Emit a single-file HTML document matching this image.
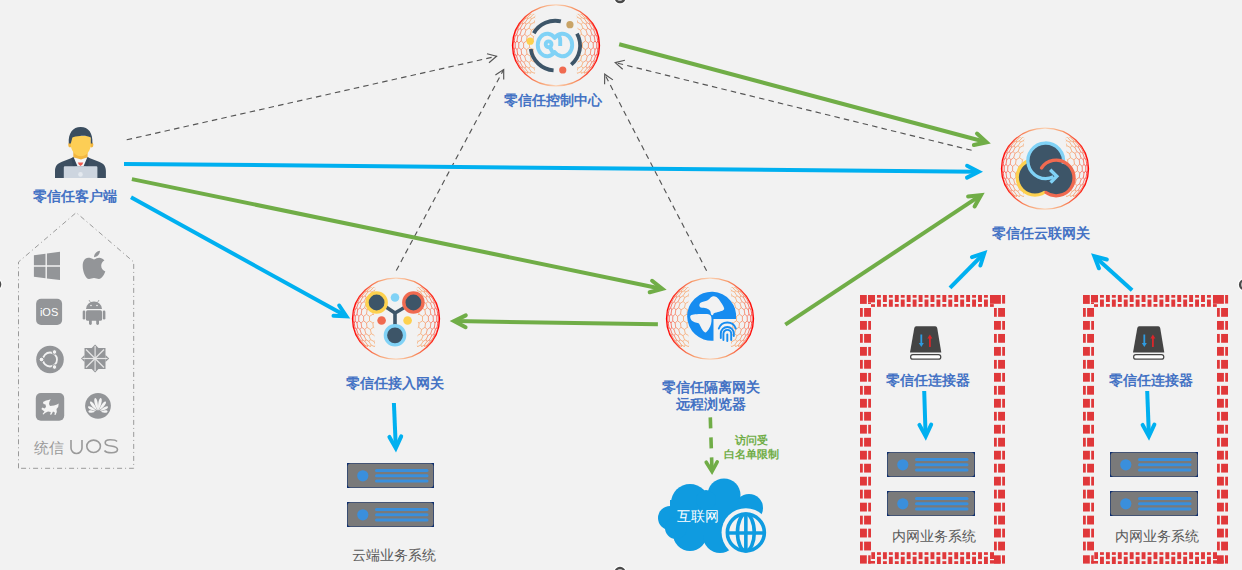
<!DOCTYPE html>
<html><head><meta charset="utf-8"><title>零信任架构</title>
<style>html,body{margin:0;padding:0;background:#f2f2f2;width:1242px;height:570px;overflow:hidden;font-family:"Liberation Sans",sans-serif}svg{display:block}</style>
</head><body>
<svg width="1242" height="570" viewBox="0 0 1242 570"><defs>
<linearGradient id="ringg" x1="0" y1="0" x2="1" y2="0">
 <stop offset="0" stop-color="#ff0000"/><stop offset="0.3" stop-color="#f79a6a"/>
 <stop offset="0.5" stop-color="#fbd3b5"/><stop offset="0.7" stop-color="#f79a6a"/><stop offset="1" stop-color="#ff0000"/>
</linearGradient>
<linearGradient id="meshg" x1="0" y1="0" x2="1" y2="0">
 <stop offset="0" stop-color="#ff1515"/><stop offset="0.08" stop-color="#f76a50"/><stop offset="0.2" stop-color="#f7a468"/>
 <stop offset="0.8" stop-color="#f7a468"/><stop offset="0.92" stop-color="#f76a50"/><stop offset="1" stop-color="#ff1515"/>
</linearGradient>
<pattern id="hex" width="5.2" height="9" patternUnits="userSpaceOnUse">
 <path d="M0,1.5 L1.3,0 L3.9,0 L5.2,1.5 M0,1.5 L0,3 M5.2,1.5 L5.2,3 M0,3 L1.3,4.5 L3.9,4.5 L5.2,3 M1.3,4.5 L1.3,6 M3.9,4.5 L3.9,6 M1.3,6 L0,7.5 M3.9,6 L5.2,7.5 M1.3,6 L3.9,6 M0,7.5 L0,9 M5.2,7.5 L5.2,9" fill="none" stroke="#000" stroke-width="0.6"/>
</pattern>
<mask id="cres" maskUnits="userSpaceOnUse" x="-50" y="-50" width="100" height="100">
 <ellipse cx="0" cy="0" rx="43" ry="40" fill="#fff"/>
 <ellipse cx="0" cy="0" rx="22" ry="90" fill="#000"/>
 <rect x="-50" y="-50" width="100" height="18.5" fill="#000"/>
 <rect x="-50" y="28.3" width="100" height="30" fill="#000"/>
</mask>
<g id="globe">
 <g mask="url(#cres)"><rect x="-44" y="-41" width="88" height="82" fill="url(#meshg)" mask="url(#hexm)"/></g>
 <ellipse cx="0" cy="0" rx="43.5" ry="40.5" fill="none" stroke="url(#ringg)" stroke-width="1.3"/>
</g>
<mask id="hexm" maskUnits="userSpaceOnUse" x="-50" y="-50" width="100" height="100">
 <path d="M-28.0,-31.2L-25.9,-32.5M-25.9,-32.5L-22.0,-35.0M-25.9,-32.5L-27.1,-31.2M-27.1,-31.2L-24.6,-32.5M-24.6,-32.5L-21.0,-35.0M-24.6,-32.5L-25.3,-31.2M-25.3,-31.2L-22.5,-32.5M-22.5,-32.5L-19.2,-35.0M-22.5,-32.5L-22.6,-31.2M-22.6,-31.2L-19.6,-32.5M-19.6,-32.5L-16.7,-35.0M-19.6,-32.5L-19.1,-31.2M-19.1,-31.2L-16.0,-32.5M16.0,-32.5L19.1,-31.2M19.1,-31.2L19.6,-32.5M19.6,-32.5L16.7,-35.0M19.6,-32.5L22.6,-31.2M22.6,-31.2L22.5,-32.5M22.5,-32.5L19.2,-35.0M22.5,-32.5L25.3,-31.2M25.3,-31.2L24.6,-32.5M24.6,-32.5L21.0,-35.0M24.6,-32.5L27.1,-31.2M27.1,-31.2L25.9,-32.5M25.9,-32.5L22.0,-35.0M25.9,-32.5L28.0,-31.2M-31.4,-28.1L-28.0,-31.2M-31.4,-28.1L-32.6,-26.5M-32.6,-26.5L-30.5,-28.1M-30.5,-28.1L-27.1,-31.2M-30.5,-28.1L-31.0,-26.5M-31.0,-26.5L-28.4,-28.1M-28.4,-28.1L-25.3,-31.2M-28.4,-28.1L-28.4,-26.5M-28.4,-26.5L-25.4,-28.1M-25.4,-28.1L-22.6,-31.2M-25.4,-28.1L-24.7,-26.5M-24.7,-26.5L-21.5,-28.1M-21.5,-28.1L-19.1,-31.2M-21.5,-28.1L-20.2,-26.5M-20.2,-26.5L-16.8,-28.1M16.8,-28.1L20.2,-26.5M20.2,-26.5L21.5,-28.1M21.5,-28.1L19.1,-31.2M21.5,-28.1L24.7,-26.5M24.7,-26.5L25.4,-28.1M25.4,-28.1L22.6,-31.2M25.4,-28.1L28.4,-26.5M28.4,-26.5L28.4,-28.1M28.4,-28.1L25.3,-31.2M28.4,-28.1L31.0,-26.5M31.0,-26.5L30.5,-28.1M30.5,-28.1L27.1,-31.2M30.5,-28.1L32.6,-26.5M32.6,-26.5L31.4,-28.1M31.4,-28.1L28.0,-31.2M-37.1,-21.1L-35.4,-23.0M-35.4,-23.0L-32.6,-26.5M-35.4,-23.0L-36.0,-21.1M-36.0,-21.1L-33.7,-23.0M-33.7,-23.0L-31.0,-26.5M-33.7,-23.0L-33.6,-21.1M-33.6,-21.1L-30.8,-23.0M-30.8,-23.0L-28.4,-26.5M-30.8,-23.0L-30.0,-21.1M-30.0,-21.1L-26.8,-23.0M-26.8,-23.0L-24.7,-26.5M-26.8,-23.0L-25.4,-21.1M-25.4,-21.1L-21.9,-23.0M-21.9,-23.0L-20.2,-26.5M-21.9,-23.0L-19.8,-21.1M-19.8,-21.1L-16.2,-23.0M16.2,-23.0L19.8,-21.1M19.8,-21.1L21.9,-23.0M21.9,-23.0L20.2,-26.5M21.9,-23.0L25.4,-21.1M25.4,-21.1L26.8,-23.0M26.8,-23.0L24.7,-26.5M26.8,-23.0L30.0,-21.1M30.0,-21.1L30.8,-23.0M30.8,-23.0L28.4,-26.5M30.8,-23.0L33.6,-21.1M33.6,-21.1L33.7,-23.0M33.7,-23.0L31.0,-26.5M33.7,-23.0L36.0,-21.1M36.0,-21.1L35.4,-23.0M35.4,-23.0L32.6,-26.5M35.4,-23.0L37.1,-21.1M-39.3,-17.2L-37.1,-21.1M-39.3,-17.2L-39.8,-15.2M-39.8,-15.2L-38.1,-17.2M-38.1,-17.2L-36.0,-21.1M-38.1,-17.2L-37.9,-15.2M-37.9,-15.2L-35.6,-17.2M-35.6,-17.2L-33.6,-21.1M-35.6,-17.2L-34.6,-15.2M-34.6,-15.2L-31.8,-17.2M-31.8,-17.2L-30.0,-21.1M-31.8,-17.2L-30.1,-15.2M-30.1,-15.2L-26.9,-17.2M-26.9,-17.2L-25.4,-21.1M-26.9,-17.2L-24.6,-15.2M-24.6,-15.2L-21.0,-17.2M-21.0,-17.2L-19.8,-21.1M-21.0,-17.2L-18.2,-15.2M18.2,-15.2L21.0,-17.2M21.0,-17.2L19.8,-21.1M21.0,-17.2L24.6,-15.2M24.6,-15.2L26.9,-17.2M26.9,-17.2L25.4,-21.1M26.9,-17.2L30.1,-15.2M30.1,-15.2L31.8,-17.2M31.8,-17.2L30.0,-21.1M31.8,-17.2L34.6,-15.2M34.6,-15.2L35.6,-17.2M35.6,-17.2L33.6,-21.1M35.6,-17.2L37.9,-15.2M37.9,-15.2L38.1,-17.2M38.1,-17.2L36.0,-21.1M38.1,-17.2L39.8,-15.2M39.8,-15.2L39.3,-17.2M39.3,-17.2L37.1,-21.1M-42.3,-8.9L-41.3,-11.0M-41.3,-11.0L-39.8,-15.2M-41.3,-11.0L-41.0,-8.9M-41.0,-8.9L-39.3,-11.0M-39.3,-11.0L-37.9,-15.2M-39.3,-11.0L-38.3,-8.9M-38.3,-8.9L-35.9,-11.0M-35.9,-11.0L-34.6,-15.2M-35.9,-11.0L-34.2,-8.9M-34.2,-8.9L-31.3,-11.0M-31.3,-11.0L-30.1,-15.2M-31.3,-11.0L-28.9,-8.9M-28.9,-8.9L-25.5,-11.0M-25.5,-11.0L-24.6,-15.2M-25.5,-11.0L-22.6,-8.9M-22.6,-8.9L-18.9,-11.0M18.9,-11.0L22.6,-8.9M22.6,-8.9L25.5,-11.0M25.5,-11.0L24.6,-15.2M25.5,-11.0L28.9,-8.9M28.9,-8.9L31.3,-11.0M31.3,-11.0L30.1,-15.2M31.3,-11.0L34.2,-8.9M34.2,-8.9L35.9,-11.0M35.9,-11.0L34.6,-15.2M35.9,-11.0L38.3,-8.9M38.3,-8.9L39.3,-11.0M39.3,-11.0L37.9,-15.2M39.3,-11.0L41.0,-8.9M41.0,-8.9L41.3,-11.0M41.3,-11.0L39.8,-15.2M41.3,-11.0L42.3,-8.9M-43.1,-4.5L-42.3,-8.9M-43.1,-4.5L-42.8,-2.3M-42.8,-2.3L-41.8,-4.5M-41.8,-4.5L-41.0,-8.9M-41.8,-4.5L-40.8,-2.3M-40.8,-2.3L-39.0,-4.5M-39.0,-4.5L-38.3,-8.9M-39.0,-4.5L-37.2,-2.3M-37.2,-2.3L-34.8,-4.5M-34.8,-4.5L-34.2,-8.9M-34.8,-4.5L-32.4,-2.3M-32.4,-2.3L-29.5,-4.5M-29.5,-4.5L-28.9,-8.9M-29.5,-4.5L-26.5,-2.3M-26.5,-2.3L-23.0,-4.5M-23.0,-4.5L-22.6,-8.9M-23.0,-4.5L-19.6,-2.3M-19.6,-2.3L-15.8,-4.5M15.8,-4.5L19.6,-2.3M19.6,-2.3L23.0,-4.5M23.0,-4.5L22.6,-8.9M23.0,-4.5L26.5,-2.3M26.5,-2.3L29.5,-4.5M29.5,-4.5L28.9,-8.9M29.5,-4.5L32.4,-2.3M32.4,-2.3L34.8,-4.5M34.8,-4.5L34.2,-8.9M34.8,-4.5L37.2,-2.3M37.2,-2.3L39.0,-4.5M39.0,-4.5L38.3,-8.9M39.0,-4.5L40.8,-2.3M40.8,-2.3L41.8,-4.5M41.8,-4.5L41.0,-8.9M41.8,-4.5L42.8,-2.3M42.8,-2.3L43.1,-4.5M43.1,-4.5L42.3,-8.9M-43.2,4.3L-42.9,2.1M-42.9,2.1L-42.8,-2.3M-42.9,2.1L-41.8,4.3M-41.8,4.3L-40.8,2.1M-40.8,2.1L-40.8,-2.3M-40.8,2.1L-39.0,4.3M-39.0,4.3L-37.3,2.1M-37.3,2.1L-37.2,-2.3M-37.3,2.1L-34.9,4.3M-34.9,4.3L-32.4,2.1M-32.4,2.1L-32.4,-2.3M-32.4,2.1L-29.5,4.3M-29.5,4.3L-26.5,2.1M-26.5,2.1L-26.5,-2.3M-26.5,2.1L-23.1,4.3M-23.1,4.3L-19.6,2.1M-19.6,2.1L-19.6,-2.3M-19.6,2.1L-15.8,4.3M15.8,4.3L19.6,2.1M19.6,2.1L19.6,-2.3M19.6,2.1L23.1,4.3M23.1,4.3L26.5,2.1M26.5,2.1L26.5,-2.3M26.5,2.1L29.5,4.3M29.5,4.3L32.4,2.1M32.4,2.1L32.4,-2.3M32.4,2.1L34.9,4.3M34.9,4.3L37.3,2.1M37.3,2.1L37.2,-2.3M37.3,2.1L39.0,4.3M39.0,4.3L40.8,2.1M40.8,2.1L40.8,-2.3M40.8,2.1L41.8,4.3M41.8,4.3L42.9,2.1M42.9,2.1L42.8,-2.3M42.9,2.1L43.2,4.3M-42.4,8.6L-43.2,4.3M-42.4,8.6L-41.4,10.8M-41.4,10.8L-41.1,8.6M-41.1,8.6L-41.8,4.3M-41.1,8.6L-39.4,10.8M-39.4,10.8L-38.4,8.6M-38.4,8.6L-39.0,4.3M-38.4,8.6L-36.0,10.8M-36.0,10.8L-34.3,8.6M-34.3,8.6L-34.9,4.3M-34.3,8.6L-31.3,10.8M-31.3,10.8L-29.0,8.6M-29.0,8.6L-29.5,4.3M-29.0,8.6L-25.6,10.8M-25.6,10.8L-22.7,8.6M-22.7,8.6L-23.1,4.3M-22.7,8.6L-18.9,10.8M18.9,10.8L22.7,8.6M22.7,8.6L23.1,4.3M22.7,8.6L25.6,10.8M25.6,10.8L29.0,8.6M29.0,8.6L29.5,4.3M29.0,8.6L31.3,10.8M31.3,10.8L34.3,8.6M34.3,8.6L34.9,4.3M34.3,8.6L36.0,10.8M36.0,10.8L38.4,8.6M38.4,8.6L39.0,4.3M38.4,8.6L39.4,10.8M39.4,10.8L41.1,8.6M41.1,8.6L41.8,4.3M41.1,8.6L41.4,10.8M41.4,10.8L42.4,8.6M42.4,8.6L43.2,4.3M-39.5,17.0L-39.9,15.0M-39.9,15.0L-41.4,10.8M-39.9,15.0L-38.2,17.0M-38.2,17.0L-38.0,15.0M-38.0,15.0L-39.4,10.8M-38.0,15.0L-35.7,17.0M-35.7,17.0L-34.7,15.0M-34.7,15.0L-36.0,10.8M-34.7,15.0L-31.9,17.0M-31.9,17.0L-30.2,15.0M-30.2,15.0L-31.3,10.8M-30.2,15.0L-27.0,17.0M-27.0,17.0L-24.7,15.0M-24.7,15.0L-25.6,10.8M-24.7,15.0L-21.1,17.0M-21.1,17.0L-18.3,15.0M18.3,15.0L21.1,17.0M21.1,17.0L24.7,15.0M24.7,15.0L25.6,10.8M24.7,15.0L27.0,17.0M27.0,17.0L30.2,15.0M30.2,15.0L31.3,10.8M30.2,15.0L31.9,17.0M31.9,17.0L34.7,15.0M34.7,15.0L36.0,10.8M34.7,15.0L35.7,17.0M35.7,17.0L38.0,15.0M38.0,15.0L39.4,10.8M38.0,15.0L38.2,17.0M38.2,17.0L39.9,15.0M39.9,15.0L41.4,10.8M39.9,15.0L39.5,17.0M-37.3,20.9L-39.5,17.0M-37.3,20.9L-35.6,22.8M-35.6,22.8L-36.1,20.9M-36.1,20.9L-38.2,17.0M-36.1,20.9L-33.9,22.8M-33.9,22.8L-33.7,20.9M-33.7,20.9L-35.7,17.0M-33.7,20.9L-31.0,22.8M-31.0,22.8L-30.1,20.9M-30.1,20.9L-31.9,17.0M-30.1,20.9L-27.0,22.8M-27.0,22.8L-25.5,20.9M-25.5,20.9L-27.0,17.0M-25.5,20.9L-22.0,22.8M-22.0,22.8L-19.9,20.9M-19.9,20.9L-21.1,17.0M-19.9,20.9L-16.3,22.8M16.3,22.8L19.9,20.9M19.9,20.9L21.1,17.0M19.9,20.9L22.0,22.8M22.0,22.8L25.5,20.9M25.5,20.9L27.0,17.0M25.5,20.9L27.0,22.8M27.0,22.8L30.1,20.9M30.1,20.9L31.9,17.0M30.1,20.9L31.0,22.8M31.0,22.8L33.7,20.9M33.7,20.9L35.7,17.0M33.7,20.9L33.9,22.8M33.9,22.8L36.1,20.9M36.1,20.9L38.2,17.0M36.1,20.9L35.6,22.8M35.6,22.8L37.3,20.9M37.3,20.9L39.5,17.0M-31.6,27.9L-32.8,26.3M-32.8,26.3L-35.6,22.8M-32.8,26.3L-30.7,27.9M-30.7,27.9L-31.2,26.3M-31.2,26.3L-33.9,22.8M-31.2,26.3L-28.6,27.9M-28.6,27.9L-28.5,26.3M-28.5,26.3L-31.0,22.8M-28.5,26.3L-25.6,27.9M-25.6,27.9L-24.9,26.3M-24.9,26.3L-27.0,22.8M-24.9,26.3L-21.6,27.9M-21.6,27.9L-20.3,26.3M-20.3,26.3L-22.0,22.8M-20.3,26.3L-16.9,27.9M16.9,27.9L20.3,26.3M20.3,26.3L22.0,22.8M20.3,26.3L21.6,27.9M21.6,27.9L24.9,26.3M24.9,26.3L27.0,22.8M24.9,26.3L25.6,27.9M25.6,27.9L28.5,26.3M28.5,26.3L31.0,22.8M28.5,26.3L28.6,27.9M28.6,27.9L31.2,26.3M31.2,26.3L33.9,22.8M31.2,26.3L30.7,27.9M30.7,27.9L32.8,26.3M32.8,26.3L35.6,22.8M32.8,26.3L31.6,27.9M-28.2,31.0L-31.6,27.9M-28.2,31.0L-26.1,32.4M-26.1,32.4L-27.4,31.0M-27.4,31.0L-30.7,27.9M-27.4,31.0L-24.9,32.4M-24.9,32.4L-25.5,31.0M-25.5,31.0L-28.6,27.9M-25.5,31.0L-22.7,32.4M-22.7,32.4L-22.8,31.0M-22.8,31.0L-25.6,27.9M-22.8,31.0L-19.8,32.4M-19.8,32.4L-19.3,31.0M-19.3,31.0L-21.6,27.9M-19.3,31.0L-16.2,32.4M16.2,32.4L19.3,31.0M19.3,31.0L21.6,27.9M19.3,31.0L19.8,32.4M19.8,32.4L22.8,31.0M22.8,31.0L25.6,27.9M22.8,31.0L22.7,32.4M22.7,32.4L25.5,31.0M25.5,31.0L28.6,27.9M25.5,31.0L24.9,32.4M24.9,32.4L27.4,31.0M27.4,31.0L30.7,27.9M27.4,31.0L26.1,32.4M26.1,32.4L28.2,31.0M28.2,31.0L31.6,27.9" fill="none" stroke="#fff" stroke-width="0.75"/>
</mask>
<pattern id="hexw" width="5.889" height="10.200" patternUnits="userSpaceOnUse">
 <path d="M2.944,0 L5.889,1.700 L5.889,5.100 L2.944,6.800 L0,5.100 L0,1.700 Z M2.944,6.800 L2.944,10.200" fill="none" stroke="#fff" stroke-width="0.5"/>
</pattern>
</defs>
<line x1="126.7" y1="139.8" x2="496.6" y2="56.3" stroke="#555555" stroke-width="1.15" stroke-dasharray="5.5 4.2"/><polyline points="487.0,53.7 496.6,56.3 489.0,62.8" fill="none" stroke="#555555" stroke-width="1.15"/>
<line x1="396.3" y1="270.5" x2="503.7" y2="69.5" stroke="#555555" stroke-width="1.15" stroke-dasharray="5.5 4.2"/><polyline points="495.4,75.1 503.7,69.5 503.7,79.5" fill="none" stroke="#555555" stroke-width="1.15"/>
<line x1="706.6" y1="270.8" x2="604.7" y2="74.2" stroke="#555555" stroke-width="1.15" stroke-dasharray="5.5 4.2"/><polyline points="604.6,84.2 604.7,74.2 612.9,79.9" fill="none" stroke="#555555" stroke-width="1.15"/>
<line x1="971.6" y1="150.3" x2="615.2" y2="62.6" stroke="#555555" stroke-width="1.15" stroke-dasharray="5.5 4.2"/><polyline points="622.7,69.3 615.2,62.6 624.9,60.2" fill="none" stroke="#555555" stroke-width="1.15"/>
<line x1="124.0" y1="163.9" x2="977.6" y2="171.8" stroke="#00b0f0" stroke-width="4"/><polyline points="967.1,165.8 978.6,171.8 967.0,177.6" fill="none" stroke="#00b0f0" stroke-width="4" stroke-linecap="round" stroke-linejoin="miter" stroke-miterlimit="10"/>
<line x1="131.9" y1="179.1" x2="661.3" y2="288.7" stroke="#70ad47" stroke-width="4"/><polyline points="652.1,280.8 662.3,288.9 649.7,292.3" fill="none" stroke="#70ad47" stroke-width="4" stroke-linecap="round" stroke-linejoin="miter" stroke-miterlimit="10"/>
<line x1="131.0" y1="197.2" x2="345.6" y2="315.8" stroke="#00b0f0" stroke-width="4"/><polyline points="339.2,305.5 346.4,316.3 333.5,315.8" fill="none" stroke="#00b0f0" stroke-width="4" stroke-linecap="round" stroke-linejoin="miter" stroke-miterlimit="10"/>
<line x1="619.2" y1="44.2" x2="985.7" y2="142.0" stroke="#70ad47" stroke-width="4"/><polyline points="977.0,133.6 986.6,142.3 973.9,145.0" fill="none" stroke="#70ad47" stroke-width="4" stroke-linecap="round" stroke-linejoin="miter" stroke-miterlimit="10"/>
<line x1="657.9" y1="324.3" x2="455.1" y2="321.1" stroke="#70ad47" stroke-width="4"/><polyline points="465.6,327.2 454.1,321.1 465.8,315.4" fill="none" stroke="#70ad47" stroke-width="4" stroke-linecap="round" stroke-linejoin="miter" stroke-miterlimit="10"/>
<line x1="785.3" y1="324.7" x2="980.2" y2="195.7" stroke="#70ad47" stroke-width="4"/><polyline points="968.1,196.6 981.0,195.1 974.6,206.4" fill="none" stroke="#70ad47" stroke-width="4" stroke-linecap="round" stroke-linejoin="miter" stroke-miterlimit="10"/>
<line x1="950.0" y1="287.9" x2="983.6" y2="253.8" stroke="#00b0f0" stroke-width="4"/><polyline points="972.0,257.2 984.3,253.1 980.4,265.5" fill="none" stroke="#00b0f0" stroke-width="4" stroke-linecap="round" stroke-linejoin="miter" stroke-miterlimit="10"/>
<line x1="1132.1" y1="290.3" x2="1095.0" y2="256.8" stroke="#00b0f0" stroke-width="4"/><polyline points="1098.9,268.3 1094.3,256.2 1106.8,259.5" fill="none" stroke="#00b0f0" stroke-width="4" stroke-linecap="round" stroke-linejoin="miter" stroke-miterlimit="10"/>
<line x1="393.9" y1="403.0" x2="395.8" y2="447.2" stroke="#00b0f0" stroke-width="4"/><polyline points="401.2,436.4 395.8,448.2 389.4,436.9" fill="none" stroke="#00b0f0" stroke-width="4" stroke-linecap="round" stroke-linejoin="miter" stroke-miterlimit="10"/>
<line x1="924.2" y1="391.0" x2="925.6" y2="435.3" stroke="#00b0f0" stroke-width="4"/><polyline points="931.2,424.5 925.7,436.3 919.4,424.9" fill="none" stroke="#00b0f0" stroke-width="4" stroke-linecap="round" stroke-linejoin="miter" stroke-miterlimit="10"/>
<line x1="1147.2" y1="391.0" x2="1148.9" y2="435.3" stroke="#00b0f0" stroke-width="4"/><polyline points="1154.4,424.5 1148.9,436.3 1142.6,424.9" fill="none" stroke="#00b0f0" stroke-width="4" stroke-linecap="round" stroke-linejoin="miter" stroke-miterlimit="10"/>
<line x1="710.3" y1="417.4" x2="712.0" y2="470.5" stroke="#70ad47" stroke-width="3.6" stroke-dasharray="11 9"/><polyline points="717.2,461.8 712.0,471.5 706.2,462.2" fill="none" stroke="#70ad47" stroke-width="3.6" stroke-linecap="round" stroke-linejoin="miter" stroke-miterlimit="10"/>
<use href="#globe" x="556" y="45.4"/>
<use href="#globe" x="1045" y="168.7"/>
<use href="#globe" x="396" y="318.7"/>
<use href="#globe" x="710" y="318.7"/>
<path d="M533.82,33.20 A24.8,24.8 0 0 1 560.88,21.44 M576.99,33.58 A24.8,24.8 0 0 1 571.24,64.60 M553.57,70.34 A24.8,24.8 0 0 1 530.74,49.05" fill="none" stroke="#3d5568" stroke-width="3.8"/>
<circle cx="569.93" cy="24.71" r="3.6" fill="#c9a467"/>
<circle cx="562.76" cy="69.99" r="3.6" fill="#f06a50"/>
<circle cx="530.19" cy="41.17" r="3.6" fill="#fdd14f"/>
<g fill="none" stroke="#80d2f6" stroke-width="3.9" stroke-linecap="butt"><path d="M554.7,38 A9.5,11.3 0 1 0 554.7,52 M554.7,38 A9.8,11.3 0 1 1 554.7,52" stroke-linecap="round"/><path d="M560.2,46 L560.2,40 Q560.2,36.2 557,35"/><path d="M554,55 L550.3,47.8"/><circle cx="548.6" cy="44.3" r="2.9"/></g>
<circle cx="1035" cy="177.3" r="17.8" fill="#3d5568" stroke="#fdd14f" stroke-width="3.3"/>
<circle cx="1056" cy="177.3" r="17.8" fill="#3d5568"/>
<circle cx="1045.5" cy="160.8" r="17.8" fill="#3d5568"/>
<path d="M1063.2,163.9 A17.8,17.8 0 1 0 1053.5,176.8" fill="none" stroke="#80d2f6" stroke-width="3.3"/>
<path d="M1050.2,169.8 L1056.8,176.2 L1050.6,182.6" fill="none" stroke="#80d2f6" stroke-width="3.4" stroke-linejoin="miter"/>
<path d="M1041.5,168 A17.8,17.8 0 1 1 1046,192.5" fill="none" stroke="#f06a50" stroke-width="3.3" stroke-linecap="round"/>
<path d="M395,313 L380,303 M395,313 L412,303 M395,313 L395,333" stroke="#3d5568" stroke-width="3.6" fill="none"/>
<circle cx="376.6" cy="302.5" r="9.6" fill="#3d5568" stroke="#fdd14f" stroke-width="3.4"/>
<circle cx="413.4" cy="302.5" r="9.6" fill="#3d5568" stroke="#f06a50" stroke-width="3.4"/>
<circle cx="395" cy="335.3" r="9.6" fill="#3d5568" stroke="#80d2f6" stroke-width="3.4"/>
<circle cx="395" cy="297.5" r="4.3" fill="#80d2f6"/>
<circle cx="381.6" cy="320.5" r="4.3" fill="#f06a50"/>
<circle cx="407.6" cy="320.5" r="4.3" fill="#fdd14f"/>
<path d="M713.5,319 L713.5,340.7 A24.5,24.5 0 1 1 736,319 Z" fill="#168cf0"/>
<path d="M699.5,304.5 C699.75,303.93 699.72,303.15 701,302.5 C702.28,301.85 705.53,301.48 707.2,300.6 C708.87,299.72 709.87,297.92 711,297.2 C712.13,296.48 712.87,296.13 714,296.3 C715.13,296.47 716.52,297.00 717.8,298.2 C719.08,299.40 720.65,301.82 721.7,303.5 C722.75,305.18 723.87,307.17 724.1,308.3 C724.33,309.43 723.90,309.73 723.1,310.3 C722.30,310.87 720.82,311.22 719.3,311.7 C717.78,312.18 715.05,312.63 714,313.2 C712.95,313.77 713.48,314.87 713,315.1 C712.52,315.33 711.58,315.32 711.1,314.6 C710.62,313.88 710.92,311.85 710.1,310.8 C709.28,309.75 707.73,308.87 706.2,308.3 C704.67,307.73 702.02,307.80 700.9,307.4 C699.78,307.00 699.73,306.38 699.5,305.9 C699.27,305.42 699.25,305.07 699.5,304.5 Z" fill="#f2f2f2"/>
<path d="M690.3,316.1 C690.70,315.20 692.02,314.93 693.7,314.6 C695.38,314.27 698.15,314.18 700.4,314.1 C702.65,314.02 705.50,313.85 707.2,314.1 C708.90,314.35 709.88,314.78 710.6,315.6 C711.32,316.42 711.42,317.63 711.5,319 C711.58,320.37 711.50,322.20 711.1,323.8 C710.70,325.40 709.98,327.15 709.1,328.6 C708.22,330.05 706.83,332.18 705.8,332.5 C704.77,332.82 703.80,331.55 702.9,330.5 C702.00,329.45 701.13,327.40 700.4,326.2 C699.67,325.00 699.45,323.95 698.5,323.3 C697.55,322.65 695.90,322.85 694.7,322.3 C693.50,321.75 692.03,321.03 691.3,320 C690.57,318.97 689.90,317.00 690.3,316.1 Z" fill="#f2f2f2"/>
<g fill="none" stroke="#168cf0" stroke-width="1.9" stroke-linecap="round"><path d="M718.8,328.5 A9,9 0 0 1 735.8,328.5"/><path d="M720.8,338 L720.8,333.5 A6.5,6.5 0 0 1 733.8,333.5 L733.8,336"/><path d="M723.4,340 L723.4,333.8 A3.9,3.9 0 0 1 731.2,333.8 L731.2,340"/><path d="M727.3,341 L727.3,334.5"/></g>
<g><path d="M55,177.9 L55,171 C55,166 57.5,163.5 62,161.8 L73.6,157.2 L87.4,157.2 L99,161.8 C103.5,163.5 105.9,166 105.9,171 L105.9,177.9 Z" fill="#3d4f61"/><path d="M73.6,157.2 L87.4,157.2 L85.6,166.5 L75.4,166.5 Z" fill="#f4f6f8"/><path d="M77.8,162.5 L83.3,162.5 L82.3,164.5 L80.5,166 L78.8,164.5 Z" fill="#f05a4f"/><path d="M73.3,150 L87.6,150 L87.6,157.2 L81,159.5 L73.3,157.2 Z" fill="#f2b640"/><path d="M73.6,157.2 L77.6,166.5 L73,166.5 L71.5,158 Z M87.4,157.2 L83.4,166.5 L88,166.5 L89.5,158 Z" fill="#34465a"/><ellipse cx="70" cy="144.8" rx="1.8" ry="2.6" fill="#f2b640"/><ellipse cx="91.6" cy="144.8" rx="1.8" ry="2.6" fill="#f2b640"/><path d="M70.8,136 L90.8,136 L90.8,145 C90.8,149 88,153.5 85,155.2 C82.6,156.6 79.2,156.6 76.8,155.2 C73.6,153.5 70.8,149 70.8,145 Z" fill="#fdce55"/><path d="M68.8,143.5 C68,133 73,127 80.6,127 C88.5,127 93,133 92.4,143.5 L90.8,143.5 L90.8,137.5 C88,136 84,135.6 80,136 C76.5,136.3 74,136.8 72.4,137.6 L70.8,143.5 Z" fill="#3a4d5f"/><path d="M64.8,166.3 L96.4,166.3 Q97.4,166.3 97.4,167.5 L97.4,177.9 L63.8,177.9 L63.8,167.5 Q63.8,166.3 64.8,166.3 Z" fill="#cdd5df"/><circle cx="80.5" cy="174.4" r="2.3" fill="#e4e9ef"/></g>
<rect x="347" y="463" width="87" height="25" fill="#0f2f6e"/><rect x="347.6" y="463.6" width="85.8" height="23.8" rx="3" fill="#7a7a7a"/><circle cx="362.8" cy="475.8" r="5.6" fill="#3a8fdc"/><line x1="376.5" y1="470.5" x2="427" y2="470.5" stroke="#3a8fdc" stroke-width="3" stroke-linecap="round"/><line x1="376.5" y1="475.8" x2="427" y2="475.8" stroke="#3a8fdc" stroke-width="3" stroke-linecap="round"/><line x1="376.5" y1="481" x2="427" y2="481" stroke="#3a8fdc" stroke-width="3" stroke-linecap="round"/>
<rect x="347" y="502" width="87" height="25" fill="#0f2f6e"/><rect x="347.6" y="502.6" width="85.8" height="23.8" rx="3" fill="#7a7a7a"/><circle cx="362.8" cy="514.8" r="5.6" fill="#3a8fdc"/><line x1="376.5" y1="509.5" x2="427" y2="509.5" stroke="#3a8fdc" stroke-width="3" stroke-linecap="round"/><line x1="376.5" y1="514.8" x2="427" y2="514.8" stroke="#3a8fdc" stroke-width="3" stroke-linecap="round"/><line x1="376.5" y1="520" x2="427" y2="520" stroke="#3a8fdc" stroke-width="3" stroke-linecap="round"/>
<rect x="887" y="452" width="88" height="25" fill="#0f2f6e"/><rect x="887.6" y="452.6" width="86.8" height="23.8" rx="3" fill="#7a7a7a"/><circle cx="902.8" cy="464.8" r="5.6" fill="#3a8fdc"/><line x1="916.5" y1="459.5" x2="967" y2="459.5" stroke="#3a8fdc" stroke-width="3" stroke-linecap="round"/><line x1="916.5" y1="464.8" x2="967" y2="464.8" stroke="#3a8fdc" stroke-width="3" stroke-linecap="round"/><line x1="916.5" y1="470" x2="967" y2="470" stroke="#3a8fdc" stroke-width="3" stroke-linecap="round"/>
<rect x="887" y="491" width="88" height="25" fill="#0f2f6e"/><rect x="887.6" y="491.6" width="86.8" height="23.8" rx="3" fill="#7a7a7a"/><circle cx="902.8" cy="503.8" r="5.6" fill="#3a8fdc"/><line x1="916.5" y1="498.5" x2="967" y2="498.5" stroke="#3a8fdc" stroke-width="3" stroke-linecap="round"/><line x1="916.5" y1="503.8" x2="967" y2="503.8" stroke="#3a8fdc" stroke-width="3" stroke-linecap="round"/><line x1="916.5" y1="509" x2="967" y2="509" stroke="#3a8fdc" stroke-width="3" stroke-linecap="round"/>
<rect x="1110" y="452" width="88" height="25" fill="#0f2f6e"/><rect x="1110.6" y="452.6" width="86.8" height="23.8" rx="3" fill="#7a7a7a"/><circle cx="1125.8" cy="464.8" r="5.6" fill="#3a8fdc"/><line x1="1139.5" y1="459.5" x2="1190" y2="459.5" stroke="#3a8fdc" stroke-width="3" stroke-linecap="round"/><line x1="1139.5" y1="464.8" x2="1190" y2="464.8" stroke="#3a8fdc" stroke-width="3" stroke-linecap="round"/><line x1="1139.5" y1="470" x2="1190" y2="470" stroke="#3a8fdc" stroke-width="3" stroke-linecap="round"/>
<rect x="1110" y="491" width="88" height="25" fill="#0f2f6e"/><rect x="1110.6" y="491.6" width="86.8" height="23.8" rx="3" fill="#7a7a7a"/><circle cx="1125.8" cy="503.8" r="5.6" fill="#3a8fdc"/><line x1="1139.5" y1="498.5" x2="1190" y2="498.5" stroke="#3a8fdc" stroke-width="3" stroke-linecap="round"/><line x1="1139.5" y1="503.8" x2="1190" y2="503.8" stroke="#3a8fdc" stroke-width="3" stroke-linecap="round"/><line x1="1139.5" y1="509" x2="1190" y2="509" stroke="#3a8fdc" stroke-width="3" stroke-linecap="round"/>
<path d="M916.2,326.3 L935.3,326.3 Q936.8,326.3 937.2,328 L941.3,352.6 L910,352.6 L914.3,328 Q914.7,326.3 916.2,326.3 Z" fill="#444"/><rect x="910.6" y="354.6" width="30.2" height="4.6" rx="2.3" fill="#fff" stroke="#444" stroke-width="1.2"/><path d="M921.3,334.5 L921.3,344" stroke="#2f9be0" stroke-width="1.8"/><path d="M918.8,343 L921.3,347 L923.8,343 Z" fill="#2f9be0"/><path d="M929.9,337.5 L929.9,347" stroke="#d9262a" stroke-width="1.8"/><path d="M927.4,338.5 L929.9,334.5 L932.4,338.5 Z" fill="#d9262a"/>
<path d="M1139.2,326.3 L1158.3,326.3 Q1159.8,326.3 1160.2,328 L1164.3,352.6 L1133,352.6 L1137.3,328 Q1137.7,326.3 1139.2,326.3 Z" fill="#444"/><rect x="1133.6" y="354.6" width="30.2" height="4.6" rx="2.3" fill="#fff" stroke="#444" stroke-width="1.2"/><path d="M1144.3,334.5 L1144.3,344" stroke="#2f9be0" stroke-width="1.8"/><path d="M1141.8,343 L1144.3,347 L1146.8,343 Z" fill="#2f9be0"/><path d="M1152.9,337.5 L1152.9,347" stroke="#d9262a" stroke-width="1.8"/><path d="M1150.4,338.5 L1152.9,334.5 L1155.4,338.5 Z" fill="#d9262a"/>
<g fill="#e0383a"><rect x="877.00" y="295.00" width="3.90" height="2.70"/><rect x="877.00" y="299.50" width="3.90" height="7.30"/><rect x="882.94" y="295.00" width="3.90" height="7.00"/><rect x="882.94" y="304.00" width="3.90" height="2.80"/><rect x="888.89" y="295.00" width="3.90" height="2.70"/><rect x="888.89" y="299.50" width="3.90" height="7.30"/><rect x="894.83" y="295.00" width="3.90" height="7.00"/><rect x="894.83" y="304.00" width="3.90" height="2.80"/><rect x="900.78" y="295.00" width="3.90" height="2.70"/><rect x="900.78" y="299.50" width="3.90" height="7.30"/><rect x="906.72" y="295.00" width="3.90" height="7.00"/><rect x="906.72" y="304.00" width="3.90" height="2.80"/><rect x="912.66" y="295.00" width="3.90" height="2.70"/><rect x="912.66" y="299.50" width="3.90" height="7.30"/><rect x="918.61" y="295.00" width="3.90" height="7.00"/><rect x="918.61" y="304.00" width="3.90" height="2.80"/><rect x="924.55" y="295.00" width="3.90" height="2.70"/><rect x="924.55" y="299.50" width="3.90" height="7.30"/><rect x="930.50" y="295.00" width="3.90" height="7.00"/><rect x="930.50" y="304.00" width="3.90" height="2.80"/><rect x="936.44" y="295.00" width="3.90" height="2.70"/><rect x="936.44" y="299.50" width="3.90" height="7.30"/><rect x="942.38" y="295.00" width="3.90" height="7.00"/><rect x="942.38" y="304.00" width="3.90" height="2.80"/><rect x="948.33" y="295.00" width="3.90" height="2.70"/><rect x="948.33" y="299.50" width="3.90" height="7.30"/><rect x="954.27" y="295.00" width="3.90" height="7.00"/><rect x="954.27" y="304.00" width="3.90" height="2.80"/><rect x="960.22" y="295.00" width="3.90" height="2.70"/><rect x="960.22" y="299.50" width="3.90" height="7.30"/><rect x="966.16" y="295.00" width="3.90" height="7.00"/><rect x="966.16" y="304.00" width="3.90" height="2.80"/><rect x="972.10" y="295.00" width="3.90" height="2.70"/><rect x="972.10" y="299.50" width="3.90" height="7.30"/><rect x="978.05" y="295.00" width="3.90" height="7.00"/><rect x="978.05" y="304.00" width="3.90" height="2.80"/><rect x="983.99" y="295.00" width="3.90" height="2.70"/><rect x="983.99" y="299.50" width="3.90" height="7.30"/><rect x="877.00" y="552.20" width="3.90" height="2.70"/><rect x="877.00" y="556.70" width="3.90" height="7.30"/><rect x="882.94" y="552.20" width="3.90" height="7.00"/><rect x="882.94" y="561.20" width="3.90" height="2.80"/><rect x="888.89" y="552.20" width="3.90" height="2.70"/><rect x="888.89" y="556.70" width="3.90" height="7.30"/><rect x="894.83" y="552.20" width="3.90" height="7.00"/><rect x="894.83" y="561.20" width="3.90" height="2.80"/><rect x="900.78" y="552.20" width="3.90" height="2.70"/><rect x="900.78" y="556.70" width="3.90" height="7.30"/><rect x="906.72" y="552.20" width="3.90" height="7.00"/><rect x="906.72" y="561.20" width="3.90" height="2.80"/><rect x="912.66" y="552.20" width="3.90" height="2.70"/><rect x="912.66" y="556.70" width="3.90" height="7.30"/><rect x="918.61" y="552.20" width="3.90" height="7.00"/><rect x="918.61" y="561.20" width="3.90" height="2.80"/><rect x="924.55" y="552.20" width="3.90" height="2.70"/><rect x="924.55" y="556.70" width="3.90" height="7.30"/><rect x="930.50" y="552.20" width="3.90" height="7.00"/><rect x="930.50" y="561.20" width="3.90" height="2.80"/><rect x="936.44" y="552.20" width="3.90" height="2.70"/><rect x="936.44" y="556.70" width="3.90" height="7.30"/><rect x="942.38" y="552.20" width="3.90" height="7.00"/><rect x="942.38" y="561.20" width="3.90" height="2.80"/><rect x="948.33" y="552.20" width="3.90" height="2.70"/><rect x="948.33" y="556.70" width="3.90" height="7.30"/><rect x="954.27" y="552.20" width="3.90" height="7.00"/><rect x="954.27" y="561.20" width="3.90" height="2.80"/><rect x="960.22" y="552.20" width="3.90" height="2.70"/><rect x="960.22" y="556.70" width="3.90" height="7.30"/><rect x="966.16" y="552.20" width="3.90" height="7.00"/><rect x="966.16" y="561.20" width="3.90" height="2.80"/><rect x="972.10" y="552.20" width="3.90" height="2.70"/><rect x="972.10" y="556.70" width="3.90" height="7.30"/><rect x="978.05" y="552.20" width="3.90" height="7.00"/><rect x="978.05" y="561.20" width="3.90" height="2.80"/><rect x="983.99" y="552.20" width="3.90" height="2.70"/><rect x="983.99" y="556.70" width="3.90" height="7.30"/><rect x="860.00" y="308.00" width="2.80" height="8.80"/><rect x="864.10" y="308.00" width="6.90" height="8.80"/><rect x="860.00" y="320.98" width="6.90" height="8.80"/><rect x="868.20" y="320.98" width="2.80" height="8.80"/><rect x="860.00" y="333.96" width="2.80" height="8.80"/><rect x="864.10" y="333.96" width="6.90" height="8.80"/><rect x="860.00" y="346.94" width="6.90" height="8.80"/><rect x="868.20" y="346.94" width="2.80" height="8.80"/><rect x="860.00" y="359.92" width="2.80" height="8.80"/><rect x="864.10" y="359.92" width="6.90" height="8.80"/><rect x="860.00" y="372.90" width="6.90" height="8.80"/><rect x="868.20" y="372.90" width="2.80" height="8.80"/><rect x="860.00" y="385.88" width="2.80" height="8.80"/><rect x="864.10" y="385.88" width="6.90" height="8.80"/><rect x="860.00" y="398.86" width="6.90" height="8.80"/><rect x="868.20" y="398.86" width="2.80" height="8.80"/><rect x="860.00" y="411.84" width="2.80" height="8.80"/><rect x="864.10" y="411.84" width="6.90" height="8.80"/><rect x="860.00" y="424.82" width="6.90" height="8.80"/><rect x="868.20" y="424.82" width="2.80" height="8.80"/><rect x="860.00" y="437.80" width="2.80" height="8.80"/><rect x="864.10" y="437.80" width="6.90" height="8.80"/><rect x="860.00" y="450.78" width="6.90" height="8.80"/><rect x="868.20" y="450.78" width="2.80" height="8.80"/><rect x="860.00" y="463.76" width="2.80" height="8.80"/><rect x="864.10" y="463.76" width="6.90" height="8.80"/><rect x="860.00" y="476.74" width="6.90" height="8.80"/><rect x="868.20" y="476.74" width="2.80" height="8.80"/><rect x="860.00" y="489.72" width="2.80" height="8.80"/><rect x="864.10" y="489.72" width="6.90" height="8.80"/><rect x="860.00" y="502.70" width="6.90" height="8.80"/><rect x="868.20" y="502.70" width="2.80" height="8.80"/><rect x="860.00" y="515.68" width="2.80" height="8.80"/><rect x="864.10" y="515.68" width="6.90" height="8.80"/><rect x="860.00" y="528.66" width="6.90" height="8.80"/><rect x="868.20" y="528.66" width="2.80" height="8.80"/><rect x="860.00" y="541.64" width="2.80" height="8.80"/><rect x="864.10" y="541.64" width="6.90" height="8.80"/><rect x="994.00" y="308.00" width="2.80" height="8.80"/><rect x="998.10" y="308.00" width="6.90" height="8.80"/><rect x="994.00" y="320.98" width="6.90" height="8.80"/><rect x="1002.20" y="320.98" width="2.80" height="8.80"/><rect x="994.00" y="333.96" width="2.80" height="8.80"/><rect x="998.10" y="333.96" width="6.90" height="8.80"/><rect x="994.00" y="346.94" width="6.90" height="8.80"/><rect x="1002.20" y="346.94" width="2.80" height="8.80"/><rect x="994.00" y="359.92" width="2.80" height="8.80"/><rect x="998.10" y="359.92" width="6.90" height="8.80"/><rect x="994.00" y="372.90" width="6.90" height="8.80"/><rect x="1002.20" y="372.90" width="2.80" height="8.80"/><rect x="994.00" y="385.88" width="2.80" height="8.80"/><rect x="998.10" y="385.88" width="6.90" height="8.80"/><rect x="994.00" y="398.86" width="6.90" height="8.80"/><rect x="1002.20" y="398.86" width="2.80" height="8.80"/><rect x="994.00" y="411.84" width="2.80" height="8.80"/><rect x="998.10" y="411.84" width="6.90" height="8.80"/><rect x="994.00" y="424.82" width="6.90" height="8.80"/><rect x="1002.20" y="424.82" width="2.80" height="8.80"/><rect x="994.00" y="437.80" width="2.80" height="8.80"/><rect x="998.10" y="437.80" width="6.90" height="8.80"/><rect x="994.00" y="450.78" width="6.90" height="8.80"/><rect x="1002.20" y="450.78" width="2.80" height="8.80"/><rect x="994.00" y="463.76" width="2.80" height="8.80"/><rect x="998.10" y="463.76" width="6.90" height="8.80"/><rect x="994.00" y="476.74" width="6.90" height="8.80"/><rect x="1002.20" y="476.74" width="2.80" height="8.80"/><rect x="994.00" y="489.72" width="2.80" height="8.80"/><rect x="998.10" y="489.72" width="6.90" height="8.80"/><rect x="994.00" y="502.70" width="6.90" height="8.80"/><rect x="1002.20" y="502.70" width="2.80" height="8.80"/><rect x="994.00" y="515.68" width="2.80" height="8.80"/><rect x="998.10" y="515.68" width="6.90" height="8.80"/><rect x="994.00" y="528.66" width="6.90" height="8.80"/><rect x="1002.20" y="528.66" width="2.80" height="8.80"/><rect x="994.00" y="541.64" width="2.80" height="8.80"/><rect x="998.10" y="541.64" width="6.90" height="8.80"/><rect x="860.00" y="295.00" width="6.80" height="8.90"/><rect x="868.00" y="295.00" width="7.00" height="7.40"/><rect x="868.00" y="302.40" width="3.00" height="1.60"/><rect x="871.00" y="304.20" width="4.00" height="2.70"/><rect x="990.00" y="295.00" width="10.90" height="8.80"/><rect x="1002.10" y="295.00" width="3.00" height="8.60"/><rect x="990.00" y="304.10" width="3.80" height="2.80"/><rect x="860.00" y="555.30" width="6.80" height="8.30"/><rect x="868.20" y="555.30" width="2.50" height="8.30"/><rect x="868.20" y="561.00" width="6.80" height="2.60"/><rect x="871.30" y="552.20" width="3.70" height="6.80"/><rect x="990.00" y="552.20" width="4.00" height="6.80"/><rect x="990.00" y="560.20" width="10.70" height="3.40"/><rect x="994.00" y="555.30" width="6.70" height="8.30"/><rect x="1002.00" y="555.30" width="3.00" height="8.30"/></g>
<g fill="#e0383a"><rect x="1100.00" y="295.00" width="3.90" height="2.70"/><rect x="1100.00" y="299.50" width="3.90" height="7.30"/><rect x="1105.94" y="295.00" width="3.90" height="7.00"/><rect x="1105.94" y="304.00" width="3.90" height="2.80"/><rect x="1111.89" y="295.00" width="3.90" height="2.70"/><rect x="1111.89" y="299.50" width="3.90" height="7.30"/><rect x="1117.83" y="295.00" width="3.90" height="7.00"/><rect x="1117.83" y="304.00" width="3.90" height="2.80"/><rect x="1123.78" y="295.00" width="3.90" height="2.70"/><rect x="1123.78" y="299.50" width="3.90" height="7.30"/><rect x="1129.72" y="295.00" width="3.90" height="7.00"/><rect x="1129.72" y="304.00" width="3.90" height="2.80"/><rect x="1135.66" y="295.00" width="3.90" height="2.70"/><rect x="1135.66" y="299.50" width="3.90" height="7.30"/><rect x="1141.61" y="295.00" width="3.90" height="7.00"/><rect x="1141.61" y="304.00" width="3.90" height="2.80"/><rect x="1147.55" y="295.00" width="3.90" height="2.70"/><rect x="1147.55" y="299.50" width="3.90" height="7.30"/><rect x="1153.50" y="295.00" width="3.90" height="7.00"/><rect x="1153.50" y="304.00" width="3.90" height="2.80"/><rect x="1159.44" y="295.00" width="3.90" height="2.70"/><rect x="1159.44" y="299.50" width="3.90" height="7.30"/><rect x="1165.38" y="295.00" width="3.90" height="7.00"/><rect x="1165.38" y="304.00" width="3.90" height="2.80"/><rect x="1171.33" y="295.00" width="3.90" height="2.70"/><rect x="1171.33" y="299.50" width="3.90" height="7.30"/><rect x="1177.27" y="295.00" width="3.90" height="7.00"/><rect x="1177.27" y="304.00" width="3.90" height="2.80"/><rect x="1183.22" y="295.00" width="3.90" height="2.70"/><rect x="1183.22" y="299.50" width="3.90" height="7.30"/><rect x="1189.16" y="295.00" width="3.90" height="7.00"/><rect x="1189.16" y="304.00" width="3.90" height="2.80"/><rect x="1195.10" y="295.00" width="3.90" height="2.70"/><rect x="1195.10" y="299.50" width="3.90" height="7.30"/><rect x="1201.05" y="295.00" width="3.90" height="7.00"/><rect x="1201.05" y="304.00" width="3.90" height="2.80"/><rect x="1206.99" y="295.00" width="3.90" height="2.70"/><rect x="1206.99" y="299.50" width="3.90" height="7.30"/><rect x="1100.00" y="552.20" width="3.90" height="2.70"/><rect x="1100.00" y="556.70" width="3.90" height="7.30"/><rect x="1105.94" y="552.20" width="3.90" height="7.00"/><rect x="1105.94" y="561.20" width="3.90" height="2.80"/><rect x="1111.89" y="552.20" width="3.90" height="2.70"/><rect x="1111.89" y="556.70" width="3.90" height="7.30"/><rect x="1117.83" y="552.20" width="3.90" height="7.00"/><rect x="1117.83" y="561.20" width="3.90" height="2.80"/><rect x="1123.78" y="552.20" width="3.90" height="2.70"/><rect x="1123.78" y="556.70" width="3.90" height="7.30"/><rect x="1129.72" y="552.20" width="3.90" height="7.00"/><rect x="1129.72" y="561.20" width="3.90" height="2.80"/><rect x="1135.66" y="552.20" width="3.90" height="2.70"/><rect x="1135.66" y="556.70" width="3.90" height="7.30"/><rect x="1141.61" y="552.20" width="3.90" height="7.00"/><rect x="1141.61" y="561.20" width="3.90" height="2.80"/><rect x="1147.55" y="552.20" width="3.90" height="2.70"/><rect x="1147.55" y="556.70" width="3.90" height="7.30"/><rect x="1153.50" y="552.20" width="3.90" height="7.00"/><rect x="1153.50" y="561.20" width="3.90" height="2.80"/><rect x="1159.44" y="552.20" width="3.90" height="2.70"/><rect x="1159.44" y="556.70" width="3.90" height="7.30"/><rect x="1165.38" y="552.20" width="3.90" height="7.00"/><rect x="1165.38" y="561.20" width="3.90" height="2.80"/><rect x="1171.33" y="552.20" width="3.90" height="2.70"/><rect x="1171.33" y="556.70" width="3.90" height="7.30"/><rect x="1177.27" y="552.20" width="3.90" height="7.00"/><rect x="1177.27" y="561.20" width="3.90" height="2.80"/><rect x="1183.22" y="552.20" width="3.90" height="2.70"/><rect x="1183.22" y="556.70" width="3.90" height="7.30"/><rect x="1189.16" y="552.20" width="3.90" height="7.00"/><rect x="1189.16" y="561.20" width="3.90" height="2.80"/><rect x="1195.10" y="552.20" width="3.90" height="2.70"/><rect x="1195.10" y="556.70" width="3.90" height="7.30"/><rect x="1201.05" y="552.20" width="3.90" height="7.00"/><rect x="1201.05" y="561.20" width="3.90" height="2.80"/><rect x="1206.99" y="552.20" width="3.90" height="2.70"/><rect x="1206.99" y="556.70" width="3.90" height="7.30"/><rect x="1083.00" y="308.00" width="2.80" height="8.80"/><rect x="1087.10" y="308.00" width="6.90" height="8.80"/><rect x="1083.00" y="320.98" width="6.90" height="8.80"/><rect x="1091.20" y="320.98" width="2.80" height="8.80"/><rect x="1083.00" y="333.96" width="2.80" height="8.80"/><rect x="1087.10" y="333.96" width="6.90" height="8.80"/><rect x="1083.00" y="346.94" width="6.90" height="8.80"/><rect x="1091.20" y="346.94" width="2.80" height="8.80"/><rect x="1083.00" y="359.92" width="2.80" height="8.80"/><rect x="1087.10" y="359.92" width="6.90" height="8.80"/><rect x="1083.00" y="372.90" width="6.90" height="8.80"/><rect x="1091.20" y="372.90" width="2.80" height="8.80"/><rect x="1083.00" y="385.88" width="2.80" height="8.80"/><rect x="1087.10" y="385.88" width="6.90" height="8.80"/><rect x="1083.00" y="398.86" width="6.90" height="8.80"/><rect x="1091.20" y="398.86" width="2.80" height="8.80"/><rect x="1083.00" y="411.84" width="2.80" height="8.80"/><rect x="1087.10" y="411.84" width="6.90" height="8.80"/><rect x="1083.00" y="424.82" width="6.90" height="8.80"/><rect x="1091.20" y="424.82" width="2.80" height="8.80"/><rect x="1083.00" y="437.80" width="2.80" height="8.80"/><rect x="1087.10" y="437.80" width="6.90" height="8.80"/><rect x="1083.00" y="450.78" width="6.90" height="8.80"/><rect x="1091.20" y="450.78" width="2.80" height="8.80"/><rect x="1083.00" y="463.76" width="2.80" height="8.80"/><rect x="1087.10" y="463.76" width="6.90" height="8.80"/><rect x="1083.00" y="476.74" width="6.90" height="8.80"/><rect x="1091.20" y="476.74" width="2.80" height="8.80"/><rect x="1083.00" y="489.72" width="2.80" height="8.80"/><rect x="1087.10" y="489.72" width="6.90" height="8.80"/><rect x="1083.00" y="502.70" width="6.90" height="8.80"/><rect x="1091.20" y="502.70" width="2.80" height="8.80"/><rect x="1083.00" y="515.68" width="2.80" height="8.80"/><rect x="1087.10" y="515.68" width="6.90" height="8.80"/><rect x="1083.00" y="528.66" width="6.90" height="8.80"/><rect x="1091.20" y="528.66" width="2.80" height="8.80"/><rect x="1083.00" y="541.64" width="2.80" height="8.80"/><rect x="1087.10" y="541.64" width="6.90" height="8.80"/><rect x="1217.00" y="308.00" width="2.80" height="8.80"/><rect x="1221.10" y="308.00" width="6.90" height="8.80"/><rect x="1217.00" y="320.98" width="6.90" height="8.80"/><rect x="1225.20" y="320.98" width="2.80" height="8.80"/><rect x="1217.00" y="333.96" width="2.80" height="8.80"/><rect x="1221.10" y="333.96" width="6.90" height="8.80"/><rect x="1217.00" y="346.94" width="6.90" height="8.80"/><rect x="1225.20" y="346.94" width="2.80" height="8.80"/><rect x="1217.00" y="359.92" width="2.80" height="8.80"/><rect x="1221.10" y="359.92" width="6.90" height="8.80"/><rect x="1217.00" y="372.90" width="6.90" height="8.80"/><rect x="1225.20" y="372.90" width="2.80" height="8.80"/><rect x="1217.00" y="385.88" width="2.80" height="8.80"/><rect x="1221.10" y="385.88" width="6.90" height="8.80"/><rect x="1217.00" y="398.86" width="6.90" height="8.80"/><rect x="1225.20" y="398.86" width="2.80" height="8.80"/><rect x="1217.00" y="411.84" width="2.80" height="8.80"/><rect x="1221.10" y="411.84" width="6.90" height="8.80"/><rect x="1217.00" y="424.82" width="6.90" height="8.80"/><rect x="1225.20" y="424.82" width="2.80" height="8.80"/><rect x="1217.00" y="437.80" width="2.80" height="8.80"/><rect x="1221.10" y="437.80" width="6.90" height="8.80"/><rect x="1217.00" y="450.78" width="6.90" height="8.80"/><rect x="1225.20" y="450.78" width="2.80" height="8.80"/><rect x="1217.00" y="463.76" width="2.80" height="8.80"/><rect x="1221.10" y="463.76" width="6.90" height="8.80"/><rect x="1217.00" y="476.74" width="6.90" height="8.80"/><rect x="1225.20" y="476.74" width="2.80" height="8.80"/><rect x="1217.00" y="489.72" width="2.80" height="8.80"/><rect x="1221.10" y="489.72" width="6.90" height="8.80"/><rect x="1217.00" y="502.70" width="6.90" height="8.80"/><rect x="1225.20" y="502.70" width="2.80" height="8.80"/><rect x="1217.00" y="515.68" width="2.80" height="8.80"/><rect x="1221.10" y="515.68" width="6.90" height="8.80"/><rect x="1217.00" y="528.66" width="6.90" height="8.80"/><rect x="1225.20" y="528.66" width="2.80" height="8.80"/><rect x="1217.00" y="541.64" width="2.80" height="8.80"/><rect x="1221.10" y="541.64" width="6.90" height="8.80"/><rect x="1083.00" y="295.00" width="6.80" height="8.90"/><rect x="1091.00" y="295.00" width="7.00" height="7.40"/><rect x="1091.00" y="302.40" width="3.00" height="1.60"/><rect x="1094.00" y="304.20" width="4.00" height="2.70"/><rect x="1213.00" y="295.00" width="10.90" height="8.80"/><rect x="1225.10" y="295.00" width="3.00" height="8.60"/><rect x="1213.00" y="304.10" width="3.80" height="2.80"/><rect x="1083.00" y="555.30" width="6.80" height="8.30"/><rect x="1091.20" y="555.30" width="2.50" height="8.30"/><rect x="1091.20" y="561.00" width="6.80" height="2.60"/><rect x="1094.30" y="552.20" width="3.70" height="6.80"/><rect x="1213.00" y="552.20" width="4.00" height="6.80"/><rect x="1213.00" y="560.20" width="10.70" height="3.40"/><rect x="1217.00" y="555.30" width="6.70" height="8.30"/><rect x="1225.00" y="555.30" width="3.00" height="8.30"/></g>
<g fill="#0f9be0"><circle cx="670" cy="518" r="12"/><circle cx="690" cy="503" r="19"/><circle cx="724" cy="495" r="16.5"/><circle cx="749" cy="508" r="14"/><circle cx="690" cy="534" r="17"/><circle cx="720" cy="536" r="17"/><rect x="670" y="500" width="80" height="35"/><circle cx="706" cy="500" r="10"/><circle cx="676" cy="528" r="11"/></g>
<circle cx="745.85" cy="532.5" r="24.3" fill="#f2f2f2"/>
<g fill="none" stroke="#0f9be0" stroke-width="3.6"><circle cx="745.85" cy="532.5" r="18.5"/><line x1="745.85" y1="514" x2="745.85" y2="551"/><line x1="727.5" y1="533" x2="764.2" y2="533"/><ellipse cx="745.85" cy="532.5" rx="8.4" ry="18.5"/></g>
<path d="M18.5,468.3 L18.5,262 L76.2,212.6 L133.7,262 L133.7,468.3 Z" fill="none" stroke="#9a9a9a" stroke-width="1" stroke-dasharray="5 3 1 3"/>
<g fill="#939598"><path d="M33.9,255.3 L45.5,253.8 L45.5,265.3 L33.9,265.3 Z"/><path d="M46.9,253.6 L60,251.8 L60,265.3 L46.9,265.3 Z"/><path d="M33.9,266.8 L45.5,266.8 L45.5,278.2 L33.9,276.7 Z"/><path d="M46.9,266.8 L60,266.8 L60,280 L46.9,278.4 Z"/></g>
<g fill="#939598"><path d="M94,259.6 C92,258.3 90,257.7 88.3,257.7 C84.5,257.7 82.7,261.5 82.7,266 C82.7,271.5 85.5,279 89,279 C91,279 92,278 94,278 C96,278 97,279 99,279 C101.5,279 104,275 105.3,271.5 C103,270.5 101.2,268.5 101.2,265.8 C101.2,263.3 102.7,261.5 104.4,260.6 C103,258.6 101,257.7 99.3,257.7 C97.3,257.7 95.8,258.6 94,259.6 Z"/><path d="M94,257.2 C94,254 96.5,251.2 100,250.8 C100,254 97.5,256.8 94,257.2 Z"/></g>
<rect x="36.1" y="298.7" width="26" height="26.3" rx="5" fill="#939598"/>
<text x="49.1" y="316" font-size="11" fill="#fff" text-anchor="middle" font-family="Liberation Sans, sans-serif">iOS</text>
<g fill="#939598"><path d="M86,309 A8,7.5 0 0 1 102,309 Z"/><rect x="86" y="310.2" width="16" height="10.5" rx="1.5"/><rect x="82.7" y="310.5" width="2.6" height="9" rx="1.3"/><rect x="102.8" y="310.5" width="2.6" height="9" rx="1.3"/><rect x="89" y="318" width="2.8" height="7" rx="1.4"/><rect x="96.2" y="318" width="2.8" height="7" rx="1.4"/><line x1="89" y1="300" x2="90.5" y2="302.5" stroke="#939598" stroke-width="0.8"/><line x1="99" y1="300" x2="97.5" y2="302.5" stroke="#939598" stroke-width="0.8"/></g><circle cx="91" cy="305.5" r="0.8" fill="#f2f2f2"/><circle cx="97" cy="305.5" r="0.8" fill="#f2f2f2"/>
<circle cx="50" cy="359.5" r="13.8" fill="#939598"/>
<g fill="none" stroke="#f2f2f2" stroke-width="1.8"><circle cx="50" cy="359.5" r="7"/></g><g fill="#f2f2f2" stroke="#939598" stroke-width="1"><circle cx="41.5" cy="359.5" r="2.3"/><circle cx="54.5" cy="352" r="2.3"/><circle cx="54.5" cy="367" r="2.3"/></g>
<g fill="#939598"><rect x="84.5" y="348" width="21" height="21"/><path d="M95.1,344.5 L98.5,348 L91.7,348 Z"/><path d="M95.1,372.5 L98.5,369 L91.7,369 Z"/><path d="M81,358.5 L84.5,355 L84.5,362 Z"/><path d="M109.2,358.5 L105.5,355 L105.5,362 Z"/></g><g stroke="#e6e6e6" stroke-width="1.2"><line x1="95.1" y1="346" x2="95.1" y2="371"/><line x1="82.5" y1="358.5" x2="107.5" y2="358.5"/><line x1="86" y1="349.5" x2="104" y2="367.5"/><line x1="104" y1="349.5" x2="86" y2="367.5"/></g>
<rect x="35.8" y="393" width="28.4" height="27.8" rx="5" fill="#939598"/>
<path d="M43,402 L46,400.5 L48.5,400 L50.8,399.2 L49.5,401.5 L49,404 L50,406 L54,405.5 L57,404.5 L58.7,403.6 L58.2,407 L56.5,409 L56.8,412 L55.5,415 L54.5,415 L54.8,412.5 L53,411.5 L51.5,414.5 L50,414.8 L50.8,412 L48,411.5 L45,413 L43.5,414.6 L42.5,414 L44.5,411.5 L42.5,410 L41.3,409 L42.5,407.5 L44.5,408.5 L46,407 L45.5,404.5 L43.5,404 Z" fill="#f4f4f4"/>
<circle cx="98" cy="405.8" r="12.9" fill="#939598"/>
<g fill="#f4f4f4"><path transform="translate(98,411.8) rotate(12)" d="M0,-1.2 C1.57,-5.40 2.36,-13.50 0,-14.00 C-2.36,-13.50 -1.57,-5.40 0,-1.2 Z"/><path transform="translate(98,411.8) rotate(-12)" d="M0,-1.2 C1.57,-5.40 2.36,-13.50 0,-14.00 C-2.36,-13.50 -1.57,-5.40 0,-1.2 Z"/><path transform="translate(98,411.8) rotate(37)" d="M0,-1.5 C1.57,-5.34 2.36,-12.30 0,-12.80 C-2.36,-12.30 -1.57,-5.34 0,-1.5 Z"/><path transform="translate(98,411.8) rotate(-37)" d="M0,-1.5 C1.57,-5.34 2.36,-12.30 0,-12.80 C-2.36,-12.30 -1.57,-5.34 0,-1.5 Z"/><path transform="translate(98,411.8) rotate(63)" d="M0,-2.0 C1.44,-5.36 2.16,-10.70 0,-11.20 C-2.16,-10.70 -1.44,-5.36 0,-2.0 Z"/><path transform="translate(98,411.8) rotate(-63)" d="M0,-2.0 C1.44,-5.36 2.16,-10.70 0,-11.20 C-2.16,-10.70 -1.44,-5.36 0,-2.0 Z"/><path transform="translate(98,411.8) rotate(88)" d="M0,-3.0 C1.26,-5.88 1.89,-9.10 0,-9.60 C-1.89,-9.10 -1.26,-5.88 0,-3.0 Z"/><path transform="translate(98,411.8) rotate(-88)" d="M0,-3.0 C1.26,-5.88 1.89,-9.10 0,-9.60 C-1.89,-9.10 -1.26,-5.88 0,-3.0 Z"/></g>
<text x="34.2" y="452.5" font-size="14.5" fill="#9a9a9a" font-family="Liberation Sans, sans-serif">统信</text>
<g fill="none" stroke="#9a9a9a" stroke-width="1.6"><path d="M71,440 L71,448 A5.5,5.5 0 0 0 82,448 L82,440"/><ellipse cx="93.6" cy="446.3" rx="6.8" ry="6.2"/><path d="M117,441.5 C116,440 114,439.8 110,439.8 C106.5,439.8 105.2,441 105.2,442.7 C105.2,444.5 107,445.6 111,446 C115,446.4 117.5,447.2 117.5,449.6 C117.5,451.6 115.5,452.8 111.5,452.8 C107.5,452.8 105.5,452 104.5,450.5"/></g>
<text x="75" y="200.5" font-size="14" fill="#4472c4" font-weight="bold" text-anchor="middle" font-family="Liberation Sans, sans-serif">零信任客户端</text>
<text x="553.4" y="104.5" font-size="14" fill="#4472c4" font-weight="bold" text-anchor="middle" font-family="Liberation Sans, sans-serif">零信任控制中心</text>
<text x="1041.3" y="237.6" font-size="14" fill="#4472c4" font-weight="bold" text-anchor="middle" font-family="Liberation Sans, sans-serif">零信任云联网关</text>
<text x="394.9" y="387.6" font-size="14" fill="#4472c4" font-weight="bold" text-anchor="middle" font-family="Liberation Sans, sans-serif">零信任接入网关</text>
<text x="710.7" y="391.7" font-size="14" fill="#4472c4" font-weight="bold" text-anchor="middle" font-family="Liberation Sans, sans-serif">零信任隔离网关</text>
<text x="710.7" y="408.6" font-size="14" fill="#4472c4" font-weight="bold" text-anchor="middle" font-family="Liberation Sans, sans-serif">远程浏览器</text>
<text x="928.3" y="384.5" font-size="14" fill="#4472c4" font-weight="bold" text-anchor="middle" font-family="Liberation Sans, sans-serif">零信任连接器</text>
<text x="1151.3" y="384.5" font-size="14" fill="#4472c4" font-weight="bold" text-anchor="middle" font-family="Liberation Sans, sans-serif">零信任连接器</text>
<text x="751.4" y="443.5" font-size="11" fill="#70ad47" font-weight="bold" text-anchor="middle" font-family="Liberation Sans, sans-serif">访问受</text>
<text x="751.4" y="457.5" font-size="11" fill="#70ad47" font-weight="bold" text-anchor="middle" font-family="Liberation Sans, sans-serif">白名单限制</text>
<text x="698.2" y="521" font-size="14" fill="#ffffff" font-weight="normal" text-anchor="middle" font-family="Liberation Sans, sans-serif">互联网</text>
<text x="393.7" y="560" font-size="14" fill="#595959" font-weight="normal" text-anchor="middle" font-family="Liberation Sans, sans-serif">云端业务系统</text>
<text x="934.4" y="541" font-size="14" fill="#595959" font-weight="normal" text-anchor="middle" font-family="Liberation Sans, sans-serif">内网业务系统</text>
<text x="1157.4" y="541" font-size="14" fill="#595959" font-weight="normal" text-anchor="middle" font-family="Liberation Sans, sans-serif">内网业务系统</text>
<circle cx="620.1" cy="-2.3" r="6.3" fill="none" stroke="#fff" stroke-width="1.2" opacity="0.8"/><circle cx="620.1" cy="-2.3" r="4.5" fill="#c4c4c4" stroke="#4a4a4a" stroke-width="2.2"/>
<circle cx="620" cy="572.4" r="6.3" fill="none" stroke="#fff" stroke-width="1.2" opacity="0.8"/><circle cx="620" cy="572.4" r="4.5" fill="#c4c4c4" stroke="#4a4a4a" stroke-width="2.2"/>
<circle cx="-4.3" cy="284.3" r="6.3" fill="none" stroke="#fff" stroke-width="1.2" opacity="0.8"/><circle cx="-4.3" cy="284.3" r="4.5" fill="#c4c4c4" stroke="#4a4a4a" stroke-width="2.2"/>
<circle cx="1244.5" cy="284.7" r="6.3" fill="none" stroke="#fff" stroke-width="1.2" opacity="0.8"/><circle cx="1244.5" cy="284.7" r="4.5" fill="#c4c4c4" stroke="#4a4a4a" stroke-width="2.2"/></svg>
</body></html>
